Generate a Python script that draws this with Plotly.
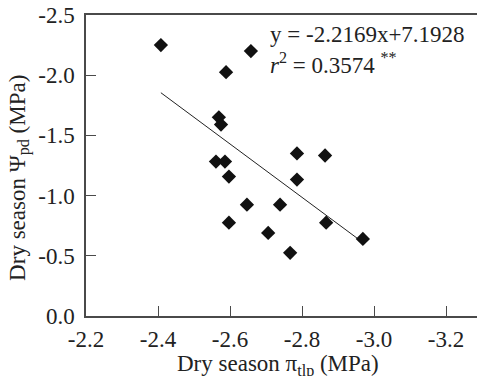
import plotly.graph_objects as go

# Data (Dry season pi_tlp vs Psi_pd, MPa)
pi_tlp = [-2.408, -2.658, -2.589, -2.569, -2.575, -2.561, -2.586, -2.597,
          -2.786, -2.864, -2.786, -2.647, -2.739, -2.597, -2.706, -2.767,
          -2.867, -2.969]
psi_pd = [-2.25, -2.20, -2.025, -1.65, -1.59, -1.283, -1.283, -1.158,
          -1.35, -1.333, -1.133, -0.925, -0.925, -0.775, -0.69, -0.525,
          -0.775, -0.64]

# Regression (on absolute values): |y| = slope*|x| + intercept
slope = -2.2169
intercept = 7.1928
r2 = 0.3574

x_tickvals = [-2.2, -2.4, -2.6, -2.8, -3.0, -3.2]
x_ticktext = ["-2.2", "-2.4", "-2.6", "-2.8", "-3.0", "-3.2"]
y_tickvals = [0.0, -0.5, -1.0, -1.5, -2.0, -2.5]
y_ticktext = ["0.0", "-0.5", "-1.0", "-1.5", "-2.0", "-2.5"]

FONT = "Liberation Serif"
AX = "#4a4a4a"
TXT = "#222222"
FS = 23

x_line = [max(pi_tlp), min(pi_tlp)]
y_line = [-(slope * abs(v) + intercept) for v in x_line]

fig = go.Figure()
fig.add_trace(go.Scatter(x=x_line, y=y_line, mode="lines",
                         line=dict(color="#222222", width=1), hoverinfo="skip"))
fig.add_trace(go.Scatter(x=pi_tlp, y=psi_pd, mode="markers",
                         marker=dict(symbol="diamond", size=11, color="#111111",
                                     line=dict(width=0))))

fig.update_layout(
    width=477, height=376,
    margin=dict(l=86, r=0, t=15, b=60, autoexpand=False),
    paper_bgcolor="white", plot_bgcolor="white",
    showlegend=False,
    font=dict(family=FONT, size=FS, color=TXT),
    xaxis=dict(range=[-2.2, -3.286], tickvals=x_tickvals, ticktext=x_ticktext,
               ticks="inside", ticklen=10, tickwidth=1.2, tickcolor=AX,
               showline=True, linecolor=AX, linewidth=1.5, mirror=True,
               showgrid=False, zeroline=False, ticklabelstandoff=2,
               automargin=False, tickfont=dict(family=FONT, size=FS, color=TXT)),
    yaxis=dict(range=[0, -2.5], tickvals=y_tickvals, ticktext=y_ticktext,
               ticks="inside", ticklen=10, tickwidth=1.2, tickcolor=AX,
               showline=True, linecolor=AX, linewidth=1.5,
               showgrid=False, zeroline=False, ticklabelstandoff=5,
               automargin=False, tickfont=dict(family=FONT, size=FS, color=TXT)),
    annotations=[
        dict(text="y = -2.2169x+7.1928", xref="paper", yref="paper",
             x=0.4655, y=0.935, xanchor="left", yanchor="middle",
             showarrow=False, font=dict(family=FONT, size=FS, color=TXT)),
        dict(text="<i>r</i><sup>2</sup> = 0.3574 <sup>**</sup>", xref="paper", yref="paper",
             x=0.4655, y=0.84, xanchor="left", yanchor="middle",
             showarrow=False, font=dict(family=FONT, size=FS, color=TXT)),
        dict(text="Dry season Ψ<sub>pd</sub> (MPa)", xref="paper", yref="paper",
             x=-0.172, y=0.458, xanchor="center", yanchor="middle", textangle=-90,
             showarrow=False, font=dict(family=FONT, size=FS, color=TXT)),
        dict(text="Dry season π<sub>tlp</sub> (MPa)", xref="paper", yref="paper",
             x=0.492, y=-0.163, xanchor="center", yanchor="middle",
             showarrow=False, font=dict(family=FONT, size=FS, color=TXT)),
    ],
)

fig.write_html("out.html", config={"displayModeBar": False},
               post_script="document.body.style.margin='0';document.body.style.overflow='hidden';")
